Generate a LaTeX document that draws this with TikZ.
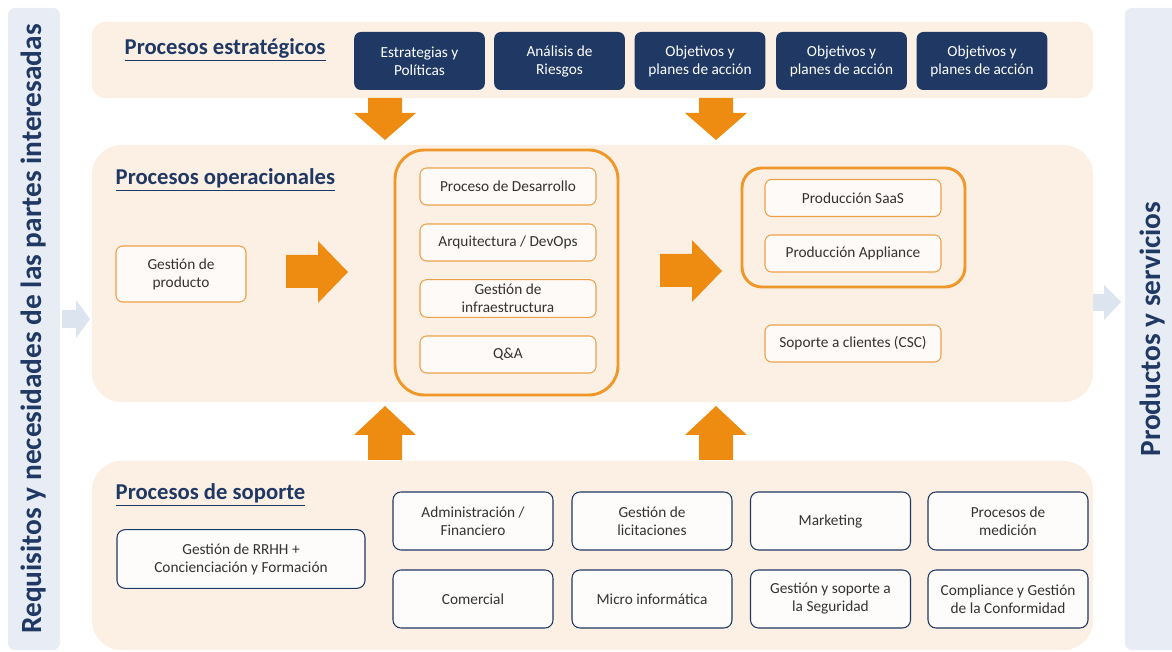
\documentclass[tikz,border=0pt]{standalone}
\usepackage{fontspec}
\setmainfont{Carlito}
\usetikzlibrary{positioning}

\definecolor{navy}{HTML}{1F3864}
\definecolor{peach}{HTML}{FCF0E4}
\definecolor{orangefill}{HTML}{EE8C12}
\definecolor{orangeline}{HTML}{EDA04A}
\definecolor{sidebar}{HTML}{E8ECF4}
\definecolor{palearrow}{HTML}{DCE4F0}
\definecolor{boxtext}{HTML}{333333}

\tikzset{
    band/.style={fill=peach, rounded corners=22pt},
    title/.style={anchor=west, text=navy, font=\fontsize{17}{20}\selectfont\bfseries},
    sidetext/.style={rotate=90, text=navy, font=\fontsize{22}{26}\selectfont\bfseries},
    stratbox/.style={fill=navy, text=white, rounded corners=5pt, align=center,
        minimum width=98pt, minimum height=43.5pt, font=\fontsize{11.5}{13.5}\selectfont},
    opbox/.style={fill=white!70!peach, draw=orangeline, line width=0.8pt, rounded corners=5pt,
        align=center, text=boxtext, font=\fontsize{11.5}{13.5}\selectfont},
    innerbox/.style={opbox, minimum width=132pt, minimum height=27.75pt},
    supbox/.style={fill=white!80!peach, draw=navy, line width=0.8pt, rounded corners=6pt,
        align=center, text=boxtext, font=\fontsize{11.5}{13.5}\selectfont,
        minimum width=120pt, minimum height=43.5pt},
    group/.style={draw=orangefill!90!white, line width=2.2pt},
}

\begin{document}
\begin{tikzpicture}[x=0.75pt, y=-0.75pt]
    \useasboundingbox (0,0) rectangle (1172,652);

    % side bars
    \fill[sidebar, rounded corners=5pt] (8,8) rectangle (60,650);
    \fill[sidebar, rounded corners=5pt] (1125,8) rectangle (1190,650);
    \node[sidetext] (req) at (34,329) {Requisitos y necesidades de las partes interesadas};
    \node[sidetext] (prod) at (1153,329) {Productos y servicios};
    \fill[palearrow] (62,310)--(76,310)--(76,300)--(90,319)--(76,338)--(76,328)--(62,328)--cycle;
    \fill[palearrow] (1086,294)--(1104,294)--(1104,285)--(1121,302)--(1104,320)--(1104,311)--(1086,311)--cycle;

    % bands
    \fill[band, rounded corners=10pt] (92,22) rectangle (1093,98);
    \fill[band] (92,145) rectangle (1093,402);
    \fill[band] (92,461) rectangle (1093,650);

    % estrategicos
    \node[title] (tstrat) at (120,50) {\underline{Procesos estratégicos}};
    \node[stratbox] (estr) at (419.5,61) {Estrategias y\\Políticas};
    \node[stratbox] (ries) at (559.5,61) {Análisis de\\Riesgos};
    \node[stratbox] (obj1) at (700,61) {Objetivos y\\planes de acción};
    \node[stratbox] (obj2) at (841.5,61) {Objetivos y\\planes de acción};
    \node[stratbox] (obj3) at (982,61) {Objetivos y\\planes de acción};

    % flechas verticales
    \foreach \x in {385,716}{
        \fill[orangefill] (\x-17,98)--(\x+17,98)--(\x+17,113)--(\x+31,113)--(\x,140)
            --(\x-31,113)--(\x-17,113)--cycle;
        \fill[orangefill] (\x-17,460)--(\x+17,460)--(\x+17,435)--(\x+31,435)--(\x,406)
            --(\x-31,435)--(\x-17,435)--cycle;
    }

    % operacionales
    \node[title] (top) at (111,180) {\underline{Procesos operacionales}};
    \node[opbox, minimum width=97.5pt, minimum height=42pt] (gprod) at (181,274) {Gestión de\\producto};
    \fill[orangefill] (286,255)--(318,255)--(318,241)--(348,272)--(318,303)--(318,288)--(286,288)--cycle;

    \draw[group, rounded corners=22pt] (395,150) rectangle (618,395);
    \node[innerbox] (des) at (508,186.5) {Proceso de Desarrollo};
    \node[innerbox] (arq) at (508,242.5) {Arquitectura / DevOps};
    \node[innerbox] (infra) at (508,298.5) {Gestión de\\infraestructura};
    \node[innerbox] (qa) at (508,354.5) {Q\&A};

    \fill[orangefill] (660,254)--(692,254)--(692,240)--(722,271)--(692,302)--(692,287)--(660,287)--cycle;

    \draw[group, rounded corners=15pt] (742,168) rectangle (965,287);
    \node[innerbox] (saas) at (853,198) {Producción SaaS};
    \node[innerbox] (appl) at (853,253.5) {Producción Appliance};
    \node[innerbox] (csc) at (853,343.5) {Soporte a clientes (CSC)};

    % soporte
    \node[title] (tsop) at (111,495) {\underline{Procesos de soporte}};
    \node[supbox, minimum width=186pt, minimum height=44pt] (rrhh) at (241,559) {Gestión de RRHH +\\Concienciación y Formación};
    \node[supbox] (admin) at (473,521) {Administración /\\Financiero};
    \node[supbox] (lic) at (652,521) {Gestión de\\licitaciones};
    \node[supbox] (mkt) at (830.5,521) {Marketing};
    \node[supbox] (med) at (1008,521) {Procesos de\\medición};
    \node[supbox] (com) at (473,599) {Comercial};
    \node[supbox] (micro) at (652,599) {Micro informática};
    \node[supbox] (seg) at (830.5,599) {Gestión y soporte a\\la Seguridad};
    \node[supbox] (conf) at (1008,599) {Compliance y Gestión\\de la Conformidad};
\end{tikzpicture}
\end{document}
